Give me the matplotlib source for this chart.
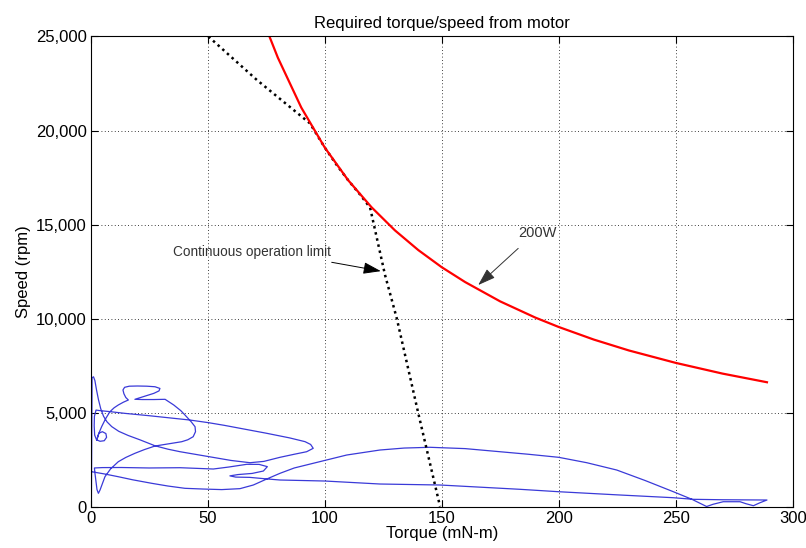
import matplotlib
matplotlib.use("Agg")
import matplotlib.pyplot as plt
from matplotlib.ticker import FuncFormatter

plt.rcParams['font.family'] = ['Liberation Sans', 'DejaVu Sans']
plt.rcParams['font.size'] = 12

# 200 W constant-power curve (torque mN-m, speed rpm)
red_torque = [76.4, 80, 90, 100, 110, 120, 130, 140, 150, 160, 175, 190,
              200, 215, 230, 250, 270, 289]
red_speed = [25000, 23870, 21220, 19100, 17360, 15920, 14690, 13640, 12730,
             11940, 10910, 10050, 9550, 8880, 8300, 7640, 7070, 6610]

# continuous operation limit (dotted)
limit_torque = [50.3, 71, 93.7, 100, 105, 110, 115, 119.4, 125.8,
                130.8, 140, 149.3]
limit_speed = [25000, 22690, 20380, 19100, 18190, 17360, 16610, 15900, 12310,
               10010, 4960, 0]

# required torque/speed trajectory (blue)
cycle_torque = [
    0.3, 0.4, 0.5, 0.6, 1.2, 1.8, 2.5, 3.3, 4.3, 5.5, 7, 9, 12, 16, 21, 27.5,
    33, 38.2, 45, 52.4, 60, 68.1, 74, 80.9, 87, 92.3, 95.1, 94, 91.6, 85, 75,
    65, 57, 50.3, 42.4, 35, 25, 15, 8, 4, 2.3,
    1.6, 1.5, 1.7, 2.5, 4, 5.8, 6.8, 6.5, 5, 3.5, 2.6,
    3.5, 4.7, 6.3, 8.2, 10, 11.8, 14, 16.1, 15, 14.2, 13.8, 14.5, 16.5, 20,
    24, 27.5, 29.6, 29.2, 27, 24, 21, 18.9, 22, 27, 31.8, 35.5, 38.5, 40.3,
    43, 44.6, 44.8, 43.8, 41.5, 38.9, 33, 27.5, 23, 18.9, 15, 11.8, 8.5, 6.1,
    4.8, 4, 3.3, 2.7, 2.2, 1.8, 1.6,
    5, 13, 25, 38.2, 45, 52.4, 59, 66.7, 72, 75.5, 73.8, 69, 63, 59.5, 62,
    68, 75, 80.9, 100.1, 123.6, 149.3, 165, 183.5, 200, 225, 249, 257.5, 270,
    280, 289, 286, 283.2, 280, 277.5, 273, 270.3, 266, 263.2,
    257, 249, 237, 224.8, 212, 200, 187, 174.9, 160, 145, 134, 123.6, 109.4,
    95.1, 87, 80.9, 75, 69.5, 63.8, 56, 48, 40.3, 33, 26.1, 18, 11.8, 6, 0.4]
cycle_speed = [
    0, 2500, 5000, 6850, 6900, 6700, 6200, 5700, 5200, 4800, 4500, 4250, 4000,
    3780, 3550, 3230, 3050, 2915, 2770, 2617, 2450, 2330, 2400, 2617, 2780,
    2915, 3096, 3300, 3450, 3650, 3900, 4130, 4320, 4460, 4600, 4700, 4830,
    4950, 5050, 5100, 5130,
    4800, 4300, 3800, 3550, 3470, 3500, 3680, 3880, 3980, 3900, 3540,
    3900, 4250, 4650, 5040, 5250, 5400, 5550, 5665, 5800, 6000, 6200, 6340,
    6400, 6410, 6400, 6370, 6280, 6150, 6020, 5900, 5780, 5702, 5690, 5690,
    5702, 5400, 5100, 4867, 4500, 4245, 3980, 3713, 3550, 3447, 3330, 3218,
    3030, 2830, 2610, 2383, 2000, 1585, 1150, 878, 702, 900, 1400, 1800, 2050,
    2070, 2075, 2050, 2064, 2030, 1995, 2100, 2245, 2240, 2120, 1888, 1760,
    1700, 1630, 1565, 1550, 1470, 1410, 1356, 1197, 1144, 1040, 915, 787, 620,
    468, 383, 360, 350, 346, 200, 43, 150, 255, 255, 255, 120, 0,
    380, 787, 1380, 1941, 2330, 2617, 2780, 2915, 3080, 3150, 3110, 3005,
    2739, 2298, 2050, 1766, 1450, 1144, 950, 900, 930, 968, 1090, 1234, 1420,
    1585, 1730, 1851]

x_ticks = [0, 50, 100, 150, 200, 250, 300]
y_ticks = [0, 5000, 10000, 15000, 20000, 25000]

fig = plt.figure(figsize=(8.06, 5.48), dpi=100)
ax = fig.add_axes([0.1125, 0.0757, 0.871, 0.8577])

ax.plot(cycle_torque, cycle_speed, color='#3a3ad8', linewidth=0.9)
ax.plot(limit_torque, limit_speed, color='black', linestyle=(0, (1, 1.5)),
        linewidth=1.8)
ax.plot(red_torque, red_speed, color='red', linewidth=1.6)

ax.set_xlim(0, 300)
ax.set_ylim(0, 25000)
ax.set_xticks(x_ticks)
ax.set_yticks(y_ticks)
ax.yaxis.set_major_formatter(FuncFormatter(lambda v, p: f'{int(v):,}'))
ax.tick_params(direction='in', top=True, right=True, length=5, labelsize=12,
               pad=3)
ax.grid(True, color='black', linestyle=(0, (1, 3)), linewidth=0.6)
for s in ax.spines.values():
    s.set_linewidth(0.8)

ax.set_title('Required torque/speed from motor', fontsize=12)
ax.set_xlabel('Torque (mN-m)', fontsize=12, labelpad=0)
ax.set_ylabel('Speed (rpm)', fontsize=12, labelpad=3)

ax.text(35, 13550, 'Continuous operation limit', fontsize=9.8,
        color='#333333', va='center', ha='left')
ax.annotate('', xy=(124, 12520), xytext=(103, 12990),
            arrowprops=dict(arrowstyle='-|>,head_length=0.9,head_width=0.3',
                            color='black', lw=0.7, mutation_scale=12,
                            shrinkA=0, shrinkB=0))
ax.text(182.7, 14530, '200W', fontsize=10.5, color='#333333',
        va='center', ha='left')
ax.annotate('', xy=(165.6, 11780), xytext=(182.7, 13730),
            arrowprops=dict(arrowstyle='-|>,head_length=0.9,head_width=0.3',
                            color='#333333', lw=0.7, mutation_scale=12,
                            shrinkA=0, shrinkB=0))

fig.savefig('out.png', dpi=100)
